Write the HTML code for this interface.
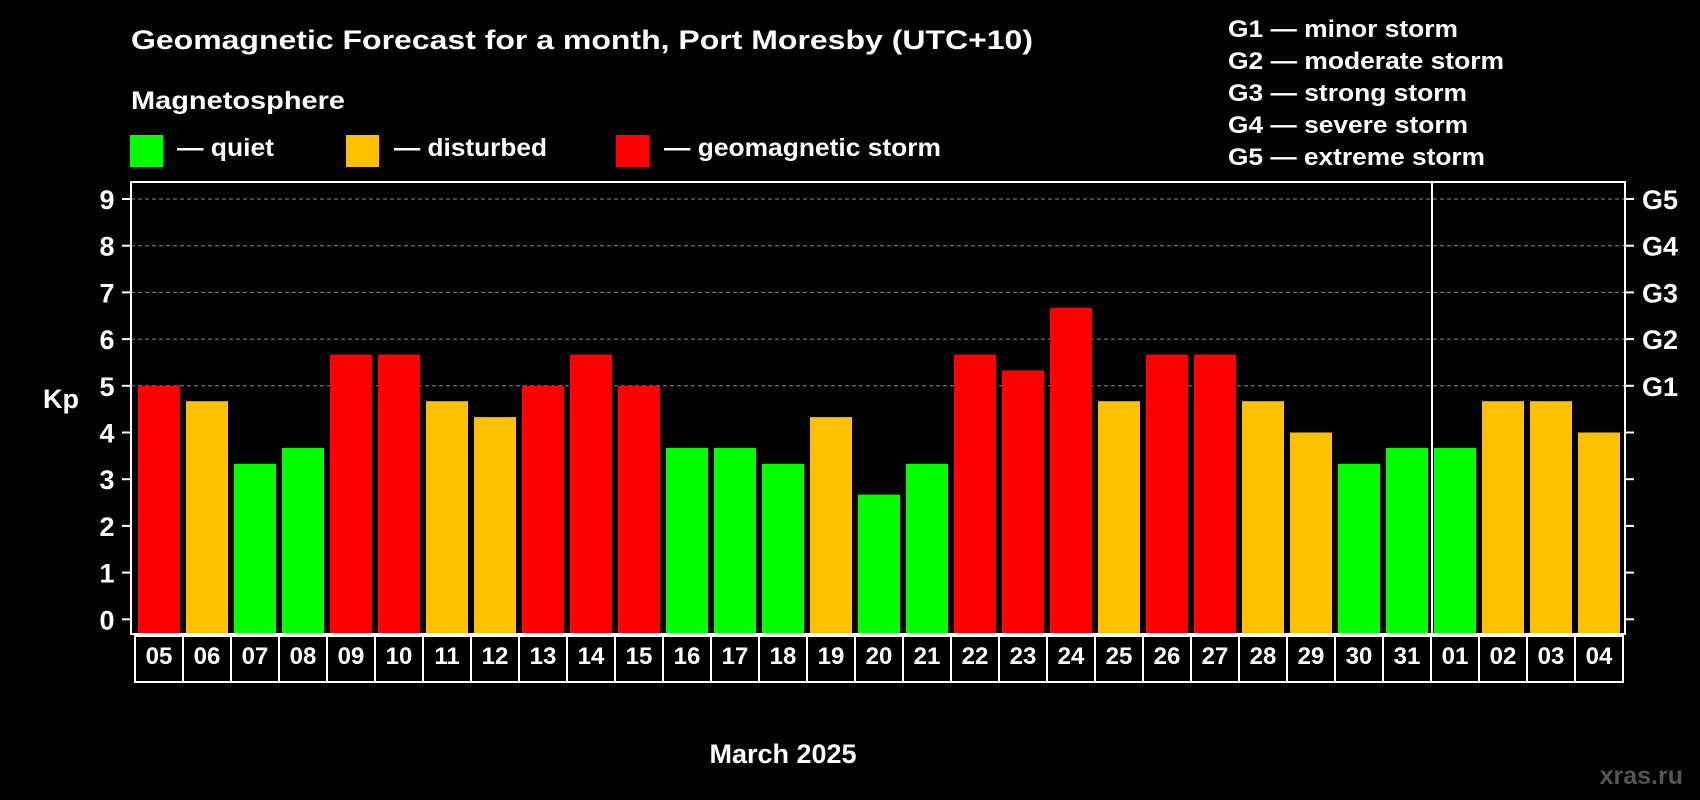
<!DOCTYPE html>
<html><head><meta charset="utf-8"><style>
html,body{margin:0;padding:0;background:#000;}
svg{display:block;font-family:"Liberation Sans",Arial,sans-serif;font-weight:bold;}
</style></head><body>
<svg id="chart" width="1700" height="800" viewBox="0 0 1700 800">
<rect width="1700" height="800" fill="#000"/>
<text x="131" y="49" font-size="27" fill="#fff" textLength="902" lengthAdjust="spacingAndGlyphs">Geomagnetic Forecast for a month, Port Moresby (UTC+10)</text>
<text x="131" y="109" font-size="25" fill="#fff" textLength="214" lengthAdjust="spacingAndGlyphs">Magnetosphere</text>
<g><rect x="130" y="135" width="33" height="32" fill="#00ff00"/><text x="177" y="156" font-size="25" fill="#fff" textLength="97" lengthAdjust="spacingAndGlyphs">— quiet</text></g>
<g><rect x="346" y="135" width="33" height="32" fill="#ffc000"/><text x="394" y="156" font-size="25" fill="#fff" textLength="153" lengthAdjust="spacingAndGlyphs">— disturbed</text></g>
<g><rect x="616" y="135" width="33" height="32" fill="#ff0000"/><text x="664" y="156" font-size="25" fill="#fff" textLength="277" lengthAdjust="spacingAndGlyphs">— geomagnetic storm</text></g>
<g font-size="24" fill="#fff">
<text x="1228" y="37" textLength="230" lengthAdjust="spacingAndGlyphs">G1 — minor storm</text>
<text x="1228" y="69" textLength="276" lengthAdjust="spacingAndGlyphs">G2 — moderate storm</text>
<text x="1228" y="101" textLength="239" lengthAdjust="spacingAndGlyphs">G3 — strong storm</text>
<text x="1228" y="133" textLength="240" lengthAdjust="spacingAndGlyphs">G4 — severe storm</text>
<text x="1228" y="165" textLength="257" lengthAdjust="spacingAndGlyphs">G5 — extreme storm</text>
</g>
<text x="43" y="408" font-size="27" fill="#fff">Kp</text>
<text x="783" y="763" font-size="27" fill="#fff" text-anchor="middle">March 2025</text>
<text x="1683" y="784" font-size="25" fill="#555" text-anchor="end">xras.ru</text>
<g id="plot"></g>
</svg>
<script>
const days=["05","06","07","08","09","10","11","12","13","14","15","16","17","18","19","20","21","22","23","24","25","26","27","28","29","30","31","01","02","03","04"];
const kp=[5,4.67,3.33,3.67,5.67,5.67,4.67,4.33,5,5.67,5,3.67,3.67,3.33,4.33,2.67,3.33,5.67,5.33,6.67,4.67,5.67,5.67,4.67,4,3.33,3.67,3.67,4.67,4.67,4];
const yTicks=[0,1,2,3,4,5,6,7,8,9];
const gLabels=["G1","G2","G3","G4","G5"];
const monthBreak=27;
const NS="http://www.w3.org/2000/svg";
const L=131,R=1625,T=182,B=634,x0=135,step=48;
const y=v=>619.3-v*46.7;
const xb=i=>x0+i*step;
const g=document.getElementById('plot');
function mk(t,a){const e=document.createElementNS(NS,t);for(const k in a)e.setAttribute(k,a[k]);g.appendChild(e);return e;}
yTicks.forEach(v=>{
  if(v>=5){const l=mk('line',{x1:L,x2:R,y1:y(v),y2:y(v),stroke:'#888','stroke-width':1,'stroke-dasharray':'4,3'});
  
  }
  const t1=mk('line',{x1:L-9,x2:L,y1:y(v),y2:y(v),stroke:'#fff','stroke-width':2});
  
  
  const t2=mk('line',{x1:R,x2:R+9,y1:y(v),y2:y(v),stroke:'#fff','stroke-width':2});
  
  
  const tx=mk('text',{x:107,y:y(v)+10,'font-size':27,fill:'#fff','text-anchor':'middle'});
  tx.textContent=v;
  
  
});
gLabels.forEach((s,i)=>{
  const t=mk('text',{x:1642,y:y(5+i)+10,'font-size':27,fill:'#fff'});
  t.textContent=s;
  
  
});
kp.forEach((v,i)=>{
  const c=v>=5?'#ff0000':(v>=4?'#ffc000':'#00ff00');
  const r=mk('rect',{x:xb(i)+3,y:y(v),width:42,height:B-y(v),fill:c});
  
  
  const bx=mk('rect',{x:xb(i),y:B+2,width:step,height:46,fill:'none',stroke:'#fff','stroke-width':2});
  
  
  const t=mk('text',{x:xb(i)+step/2,y:B+30,'font-size':24,fill:'#fff','text-anchor':'middle'});
  t.textContent=days[i];
  
  
});
const fr=mk('rect',{x:L,y:T,width:R-L,height:B-T,fill:'none',stroke:'#fff','stroke-width':2});


const sep=mk('line',{x1:xb(monthBreak)+1,x2:xb(monthBreak)+1,y1:T,y2:B,stroke:'#fff','stroke-width':2});


</script>
</body></html>
